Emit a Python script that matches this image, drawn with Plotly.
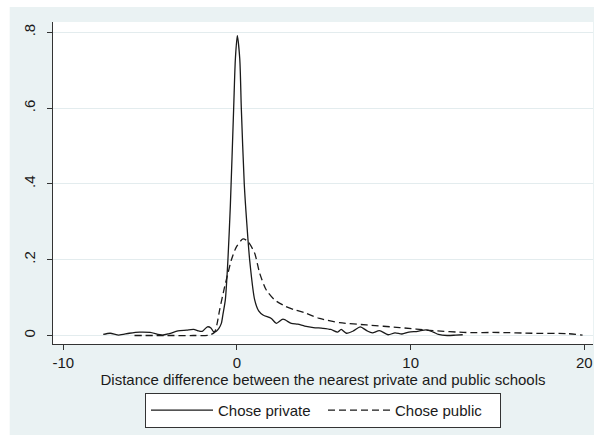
import plotly.graph_objects as go

# Kernel density of the distance difference (km), by school choice
private_x = [-7.7, -7.3, -6.8, -6.2, -5.6, -5.0, -4.3, -3.9, -3.4, -2.9, -2.5, -2.2,
             -2.0, -1.7, -1.5, -1.35, -1.2, -1.05, -0.9, -0.8, -0.67, -0.52, -0.38,
             -0.19, -0.09, 0.02, 0.16, 0.25, 0.42, 0.56, 0.73, 1.02, 1.25, 1.50, 1.98,
             2.27, 2.65, 3.13, 3.5, 3.9, 4.4, 4.95, 5.4, 5.8, 6.0, 6.3, 6.7, 7.1, 7.5,
             7.8, 8.2, 8.7, 9.1, 9.5, 9.9, 10.4, 10.9, 11.3, 11.6, 12.1, 12.6, 13.0]
private_y = [0.003, 0.006, 0.001, 0.006, 0.009, 0.008, 0.001, 0.005, 0.012, 0.014,
             0.016, 0.012, 0.011, 0.023, 0.020, 0.010, 0.011, 0.018, 0.032, 0.058,
             0.094, 0.200, 0.344, 0.600, 0.731, 0.791, 0.731, 0.600, 0.400, 0.300,
             0.200, 0.094, 0.065, 0.054, 0.045, 0.032, 0.043, 0.032, 0.030, 0.025,
             0.021, 0.019, 0.016, 0.009, 0.016, 0.006, 0.012, 0.023, 0.012, 0.007,
             0.013, 0.002, 0.007, 0.004, 0.009, 0.011, 0.015, 0.009, 0.003, 0.000,
             0.001, 0.002]

public_x = [-5.9, -4.0, -2.5, -1.6, -1.3, -1.15, -1.0, -0.71, -0.52, -0.32, -0.03,
            0.35, 0.63, 1.02, 1.31, 1.69, 2.17, 2.75, 3.3, 3.9, 4.76, 5.91, 7.45,
            9.37, 11.29, 13.2, 15.1, 17.0, 19.0, 19.9]
public_y = [0.000, 0.000, 0.000, 0.001, 0.008, 0.030, 0.067, 0.129, 0.164, 0.200,
            0.234, 0.255, 0.248, 0.217, 0.164, 0.120, 0.094, 0.078, 0.068, 0.060,
            0.045, 0.034, 0.028, 0.021, 0.013, 0.008, 0.008, 0.006, 0.005, 0.001]

x_ticks = [-10, 0, 10, 20]
x_tick_text = ["-10", "0", "10", "20"]
y_ticks = [0, 0.2, 0.4, 0.6, 0.8]
y_tick_text = ["0", ".2", ".4", ".6", ".8"]

FONT = "Liberation Sans, Arial, Helvetica, sans-serif"
INK = "#1a1a1a"
REGION = "#EAF2F3"
GRID = "#E3ECEE"

fig = go.Figure()
fig.add_trace(go.Scatter(
    x=private_x, y=private_y, mode="lines", name="Chose private",
    line=dict(color=INK, width=1.3, shape="spline", smoothing=0.7),
))
fig.add_trace(go.Scatter(
    x=public_x, y=public_y, mode="lines", name="Chose public",
    line=dict(color=INK, width=1.3, dash="7px,4px", shape="spline", smoothing=0.7),
))

# graph region background, with the white plot region laid over it
fig.add_shape(type="rect", xref="paper", yref="paper",
              x0=-0.0802, x1=1.0019, y0=-0.2826, y1=1.0466,
              fillcolor=REGION, line_width=0, layer="below")
fig.add_shape(type="rect", xref="paper", yref="paper",
              x0=0, x1=1, y0=0, y1=1,
              fillcolor="white", line_width=0, layer="below")

fig.update_layout(
    width=598, height=439,
    margin=dict(l=53, r=5, t=22, b=95),
    paper_bgcolor="white", plot_bgcolor="white",
    font=dict(family=FONT, size=15, color=INK),
    showlegend=True,
    legend=dict(
        orientation="h", x=0.5, xanchor="center", y=-0.152, yanchor="top",
        bgcolor="white", bordercolor="#333333", borderwidth=1,
        font=dict(family=FONT, size=15, color=INK),
        itemwidth=62, entrywidth=100, entrywidthmode="pixels",
    ),
)
fig.update_xaxes(
    range=[-10.593, 20.501], tickvals=x_ticks, ticktext=x_tick_text,
    showgrid=False, zeroline=False, showline=True, linecolor="#333333", linewidth=1,
    ticks="outside", ticklen=5, tickcolor="#333333",
    title=dict(text="Distance difference between the nearest private and public schools",
               standoff=0, font=dict(size=15)),
)
fig.update_yaxes(
    range=[-0.0224, 0.8272], tickvals=y_ticks, ticktext=y_tick_text,
    showgrid=True, gridcolor=GRID, gridwidth=1, zeroline=False,
    showline=True, linecolor="#333333", linewidth=1,
    ticks="outside", ticklen=5, tickcolor="#333333", tickangle=-90,
    ticklabelstandoff=6,
)

fig.write_html("out.html")
